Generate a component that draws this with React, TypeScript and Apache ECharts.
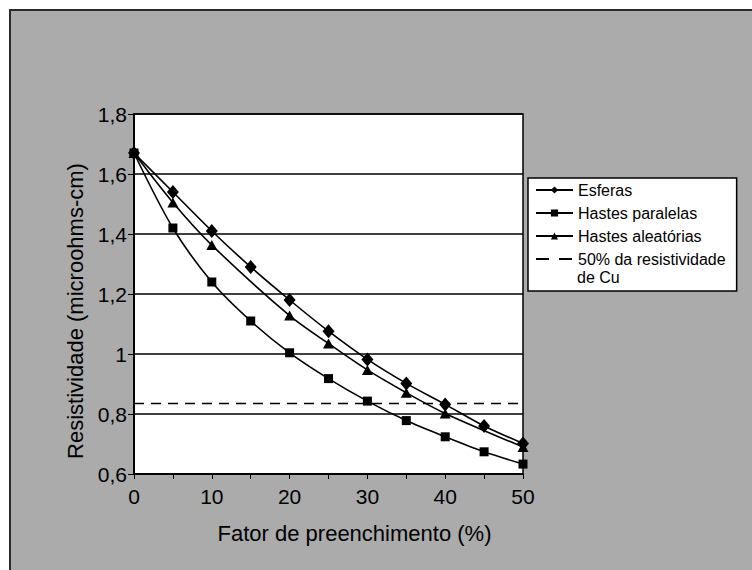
import React, { useEffect, useRef } from "react";
import * as echarts from "echarts";

const fillFactor = [0, 5, 10, 15, 20, 25, 30, 35, 40, 45, 50];
const esferas = [1.67, 1.54, 1.41, 1.29, 1.18, 1.076, 0.982, 0.902, 0.832, 0.76, 0.702];
const hastesParalelas = [1.67, 1.42, 1.24, 1.11, 1.004, 0.918, 0.843, 0.778, 0.724, 0.674, 0.633];
const hastesAleatorias = [1.67, 1.505, 1.363, null, 1.128, 1.035, 0.947, 0.871, 0.802, null, 0.69];
const cuHalf = 0.835;
const cuRange = [0, 50];

const NAME_ESF = "Esferas";
const NAME_PAR = "Hastes paralelas";
const NAME_ALE = "Hastes aleatórias";
const NAME_CU = "50% da resistividade de Cu";

const FONT = "'Liberation Sans', Arial, sans-serif";

const pairs = (ys: (number | null)[]) =>
  fillFactor.map((x, i) => [x, ys[i]]).filter((p) => p[1] !== null);

export default function App() {
  const ref = useRef<HTMLDivElement>(null);
  useEffect(() => {
    document.body.style.margin = "0";
    const chart = echarts.init(ref.current!, undefined, { renderer: "svg" });
    const lineStyle = { color: "#000", width: 1.6 };
    chart.setOption({
      animation: false,
      backgroundColor: "#ffffff",
      textStyle: { fontFamily: FONT, color: "#000" },
      graphic: [
        { type: "rect", z: -10, shape: { x: 9, y: 9, width: 743, height: 561 }, style: { fill: "#ababab" } },
        { type: "line", z: -9, shape: { x1: 9, y1: 10, x2: 752, y2: 10 }, style: { stroke: "#2a2a2a", lineWidth: 2 } },
        { type: "line", z: -9, shape: { x1: 10, y1: 9, x2: 10, y2: 570 }, style: { stroke: "#2a2a2a", lineWidth: 2 } },
        {
          type: "text",
          z: 100,
          left: 577,
          top: 269,
          style: { text: "de Cu", fontSize: 16, fontFamily: FONT, fill: "#000" },
        },
      ],
      grid: {
        left: 134,
        top: 114,
        width: 389,
        height: 360,
        show: true,
        backgroundColor: "#ffffff",
        borderColor: "#000",
        borderWidth: 1.5,
      },
      legend: {
        orient: "vertical",
        left: 528,
        top: 178,
        padding: [3, 11, 23, 7],
        itemGap: 5,
        itemWidth: 37,
        itemHeight: 9,
        backgroundColor: "#ffffff",
        borderColor: "#000",
        borderWidth: 1.5,
        borderRadius: 0,
        selectedMode: false,
        textStyle: { fontSize: 16, color: "#000", fontFamily: FONT, lineHeight: 18 },
        data: [
          NAME_ESF,
          NAME_PAR,
          NAME_ALE,
          { name: NAME_CU, itemStyle: { opacity: 0 }, lineStyle: { type: [13, 10] } },
        ],
        formatter: (n: string) => (n === NAME_CU ? "50% da resistividade" : n),
      },
      xAxis: {
        type: "value",
        min: 0,
        max: 50,
        interval: 10,
        name: "Fator de preenchimento (%)",
        nameLocation: "middle",
        nameGap: 48,
        nameTextStyle: { fontSize: 22, color: "#000", fontFamily: FONT, padding: [0, 0, 0, 52] },
        axisLine: { show: true, lineStyle: { color: "#000", width: 1.5 } },
        axisTick: { show: true, length: 5, lineStyle: { color: "#000", width: 1 } },
        minorTick: { show: true, splitNumber: 2, length: 5, lineStyle: { color: "#000", width: 1 } },
        axisLabel: { fontSize: 21, color: "#000", margin: 12, fontFamily: FONT },
        splitLine: { show: false },
      },
      yAxis: {
        type: "value",
        min: 0.6,
        max: 1.8,
        interval: 0.2,
        name: "Resistividade (microohms-cm)",
        nameLocation: "middle",
        nameGap: 48,
        nameTextStyle: { fontSize: 22, color: "#000", fontFamily: FONT, padding: [0, 34, 0, 0] },
        axisLine: { show: true, lineStyle: { color: "#000", width: 2 } },
        axisTick: { show: true, length: 6, lineStyle: { color: "#000", width: 1 } },
        axisLabel: {
          fontSize: 21,
          color: "#000",
          margin: 7,
          fontFamily: FONT,
          formatter: (v: number) => {
            const r = Math.round(v * 10) / 10;
            return r === 1 ? "1" : r.toFixed(1).replace(".", ",");
          },
        },
        splitLine: { show: true, lineStyle: { color: "#000", width: 1.5 } },
      },
      series: [
        {
          name: NAME_CU,
          type: "line",
          data: cuRange.map((x) => [x, cuHalf]),
          symbol: "none",
          lineStyle: { color: "#000", width: 1.5, type: [10, 7] },
          itemStyle: { color: "#000" },
          z: 1,
        },
        {
          name: NAME_ESF,
          type: "line",
          data: pairs(esferas),
          smooth: 0.3,
          symbol: "diamond",
          symbolSize: [12, 14],
          lineStyle,
          itemStyle: { color: "#000" },
          z: 3,
        },
        {
          name: NAME_PAR,
          type: "line",
          data: pairs(hastesParalelas),
          smooth: 0.3,
          symbol: "rect",
          symbolSize: 9,
          lineStyle,
          itemStyle: { color: "#000" },
          z: 3,
        },
        {
          name: NAME_ALE,
          type: "line",
          data: pairs(hastesAleatorias),
          smooth: 0.3,
          symbol: "triangle",
          symbolSize: [11, 10],
          lineStyle,
          itemStyle: { color: "#000" },
          z: 3,
        },
      ],
    });
    return () => chart.dispose();
  }, []);
  return <div ref={ref} style={{ width: 752, height: 570 }} />;
}
